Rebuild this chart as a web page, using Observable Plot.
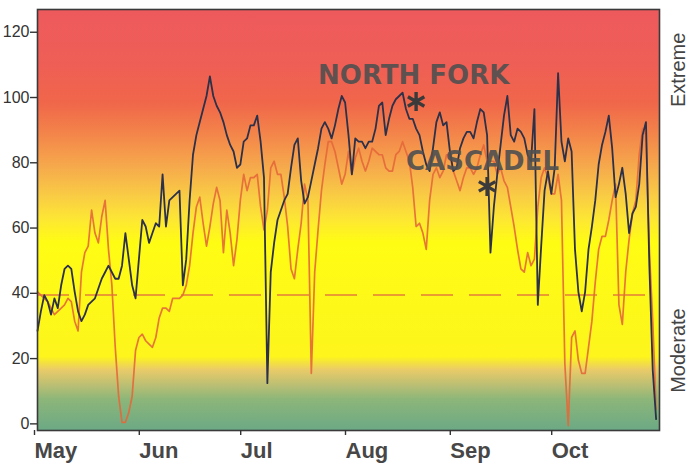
<!DOCTYPE html>
<html><head><meta charset="utf-8">
<script src="https://cdn.jsdelivr.net/npm/d3@7"></script>
<script src="https://cdn.jsdelivr.net/npm/@observablehq/plot@0.6"></script>
<style>html,body{margin:0;padding:0;background:#fff;}#chart{width:691px;height:467px;}</style>
</head><body><div id="chart"></div>
<script>
// ---- data ----
const seasonStart = "2003-05-01";
const seasonEnd = "2003-11-01";
const monthLabels = ["May", "Jun", "Jul", "Aug", "Sep", "Oct"];
const yTicks = [0, 20, 40, 60, 80, 100, 120];
const thresholdValue = 41;

// daily index values from May 1
const northFork = [
  30,36,41,39,35,40,37,44,49,50,
  49,42,36,33,35,38,39,40,43,46,
  48,50,48,46,46,50,60,52,44,40,
  52,64,62,57,60,63,62,78,62,70,
  71,72,73,44,52,70,84,90,94,98,
  102,108,102,99,97,94,90,87,85,80,
  81,88,89,93,93,96,88,77,14,48,
  57,64,67,70,72,80,87,89,76,69,
  71,76,81,86,92,94,92,89,93,98,
  102,100,90,78,89,88,88,86,88,88,
  92,99,100,90,95,99,101,102,103,98,
  95,95,92,90,85,81,79,86,94,97,
  93,94,85,79,80,86,89,91,91,89,
  94,98,97,90,54,68,78,87,96,102,
  90,88,92,91,89,84,82,98,38,56,
  73,79,72,80,109,88,82,89,85,55,
  42,36,42,55,62,70,81,87,91,96,
  86,71,75,80,72,60,66,68,75,90,
  94,50,18,3
];
const cascadel = [
  42,41,40,39,37,35,36,37,38,40,
  39,33,30,48,54,56,67,60,57,65,
  70,55,44,25,10,2,2,5,10,24,
  28,29,27,26,25,28,34,37,37,36,
  40,40,40,41,44,50,60,68,71,63,
  56,62,69,74,70,54,67,60,50,58,
  70,78,73,77,77,78,68,61,67,80,
  82,78,78,71,62,49,46,55,63,75,
  70,17,48,61,73,81,88,88,85,80,
  75,78,85,78,83,86,82,79,82,86,
  85,84,84,80,79,79,84,85,88,85,
  82,74,62,63,60,55,70,78,80,77,
  79,84,84,79,76,73,77,80,80,78,
  80,84,87,82,82,82,78,80,76,74,
  68,62,55,49,48,54,50,52,68,77,
  80,77,72,72,78,70,20,1,28,30,
  21,17,17,25,33,45,55,59,59,64,
  70,75,38,32,48,58,66,70,84,92,
  90,55,33,6
];

const seriesLabels = [
  {label: "NORTH FORK", date: "2003-07-23", value: 105.8, spacing: 0},
  {label: "CASCADEL", date: "2003-08-18", value: 79.3, spacing: 1.5}
];
const starMarkers = [
  {date: "2003-08-21", value: 100.3},
  {date: "2003-09-11", value: 74.3}
];
const sideLabels = [
  {label: "Extreme", value: 110},
  {label: "Moderate", value: 24}
];
const bgStops = [
  [128.5, "#ee5a5d"], [112, "#ef5e56"], [100, "#f0664a"], [91, "#f3824a"],
  [80, "#f6aa4c"], [71, "#f9cd44"], [64, "#fde733"], [57, "#fffc14"],
  [22, "#fdf51c"], [18, "#eacb68"], [13, "#b8be74"], [9, "#8db679"], [-1, "#6ca985"]
];

// ---- build ----
const start = new Date(seasonStart + "T00:00:00Z");
const toDate = s => new Date(s + "T00:00:00Z");
const nfData = northFork.map((v, i) => ({date: d3.utcDay.offset(start, i), value: v}));
const caData = cascadel.map((v, i) => ({date: d3.utcDay.offset(start, i), value: v}));
const monthTicks = monthLabels.map((m, i) => d3.utcMonth.offset(start, i));
const yDomain = [-0.5, 128.5];

const background = (index, scales, values, dims) => {
  const g = d3.create("svg:g");
  const y1 = scales.y(yDomain[1]), y2 = scales.y(yDomain[0]);
  const grad = g.append("defs").append("linearGradient")
    .attr("id", "bggrad").attr("gradientUnits", "userSpaceOnUse")
    .attr("x1", 0).attr("x2", 0).attr("y1", y1).attr("y2", y2);
  for (const [v, c] of bgStops) {
    const off = Math.max(0, Math.min(1, (scales.y(v) - y1) / (y2 - y1)));
    grad.append("stop").attr("offset", off).attr("stop-color", c);
  }
  g.append("rect")
    .attr("x", dims.marginLeft).attr("y", dims.marginTop)
    .attr("width", dims.width - dims.marginLeft - dims.marginRight)
    .attr("height", dims.height - dims.marginTop - dims.marginBottom)
    .attr("fill", "url(#bggrad)");
  return g.node();
};

const chart = Plot.plot({
  width: 691,
  height: 467,
  marginLeft: 37,
  marginRight: 32,
  marginTop: 9,
  marginBottom: 37,
  style: {fontFamily: "'Liberation Sans', Arial, sans-serif", background: "#fff", overflow: "visible"},
  x: {type: "utc", domain: [start, toDate(seasonEnd)]},
  y: {domain: yDomain},
  marks: [
    background,
    Plot.ruleY([thresholdValue], {stroke: "#e2703e", strokeWidth: 1.6, strokeDasharray: "32,16", strokeOpacity: 0.9}),
    Plot.line(caData, {x: "date", y: "value", stroke: "#e4683a", strokeWidth: 1.7, strokeOpacity: 0.9}),
    Plot.line(nfData, {x: "date", y: "value", stroke: "#2c3049", strokeWidth: 1.8}),
    Plot.frame({stroke: "#3a3a3a", strokeWidth: 1.6}),
    Plot.axisY(yTicks, {tickSize: 7, tickPadding: 1, fontSize: 16, dy: -5, color: "#333", stroke: "#333", strokeWidth: 1.4, label: null}),
    Plot.axisX(monthTicks, {tickSize: 5, tickPadding: 7, fontSize: 22, fontWeight: "bold", textAnchor: "start", dx: -3,
      color: "#474747", stroke: "#333", strokeWidth: 1.4, tickFormat: (d, i) => monthLabels[i], label: null}),
    Plot.text(seriesLabels.slice(0, 1), {x: d => toDate(d.date), y: "value", text: "label", textAnchor: "start", lineAnchor: "bottom",
      fontFamily: "'DejaVu Sans', sans-serif", fontWeight: "bold", fontSize: 26, fill: "#505050", fillOpacity: 0.92}),
    Plot.text(seriesLabels.slice(1), {x: d => toDate(d.date), y: "value", text: "label", textAnchor: "start", lineAnchor: "bottom",
      fontFamily: "'DejaVu Sans', sans-serif", fontWeight: "bold", fontSize: 26, fill: "#505050", fillOpacity: 0.92, letterSpacing: 1.5}),
    Plot.dot(starMarkers, {x: d => toDate(d.date), y: "value", symbol: "asterisk", r: 9, stroke: "#3a3a3a", strokeWidth: 3.4}),
    Plot.text(sideLabels, {frameAnchor: "right", y: "value", text: "label", rotate: -90, dx: 19, textAnchor: "middle",
      fontSize: 20, fill: "#444", letterSpacing: 1})
  ]
});
document.getElementById("chart").append(chart);
</script>
</body></html>
